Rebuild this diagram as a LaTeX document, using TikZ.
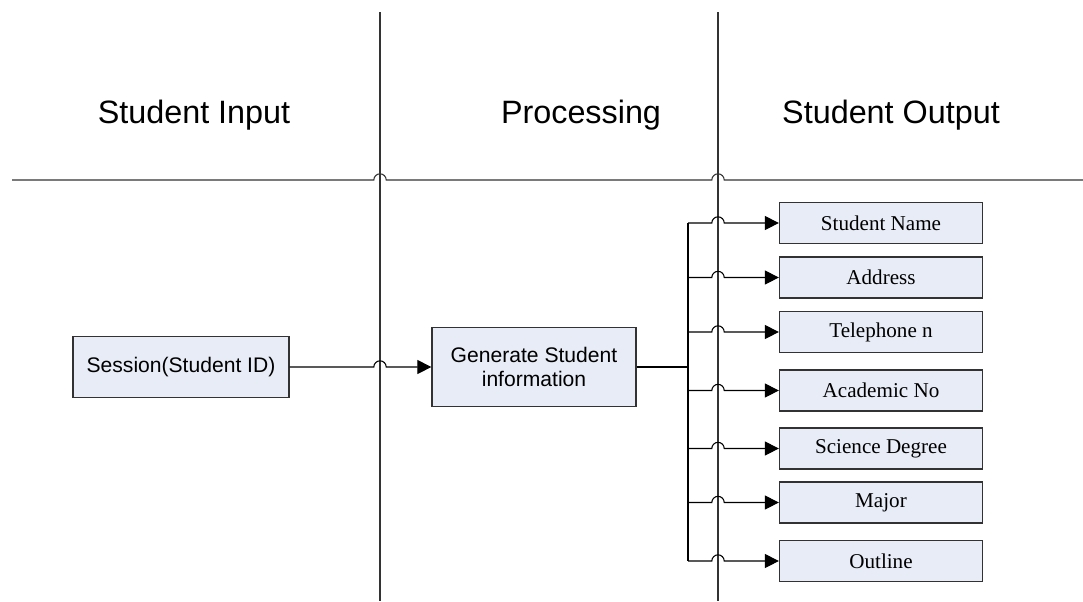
\documentclass[tikz,border=0pt]{standalone}
\usepackage{fontspec}
\setmainfont{Liberation Serif}
\setsansfont{Liberation Sans}
\usetikzlibrary{arrows.meta,positioning}
\definecolor{boxfill}{RGB}{231,236,246}
\definecolor{boxline}{RGB}{50,50,50}
\tikzset{
  lane/.style={draw=black!80, line width=0.75pt},
  head/.style={font=\sffamily\fontsize{23}{26}\selectfont},
  inbox/.style={draw=boxline, fill=boxfill, line width=0.9pt, align=center,
                font=\sffamily\fontsize{15}{17}\selectfont},
  outbox/.style={draw=boxline, fill=boxfill, line width=0.9pt,
                 minimum width=203*0.025cm, minimum height=41*0.025cm,
                 font=\fontsize{15}{17}\selectfont},
  flow/.style={draw=black, line width=0.75pt, -{Triangle[length=10pt,width=10pt]}},
  hop/.style={insert path={arc[start angle=180, end angle=0, radius=4.4pt]}},
}

\begin{document}
\begin{tikzpicture}[x=0.025cm, y=0.025cm]
  \useasboundingbox (0,0) rectangle (1083,-601);
  % swimlane frame
  \coordinate (l1top) at (380,-12);
  \coordinate (l1bot) at (380,-601);
  \coordinate (l2top) at (718,-12);
  \coordinate (l2bot) at (718,-601);
  \coordinate (hleft) at (12,-180);
  \coordinate (hright) at (1083,-180);
  \draw[lane] (l1top) -- (l1bot);
  \draw[lane] (l2top) -- (l2bot);
  \draw[lane] (hleft) -- ([xshift=-4.4pt]l1top |- hleft) [hop]
              -- ([xshift=-4.4pt]l2top |- hleft) [hop] -- (hright);
  \node[head] (hin)   at (194,-115) {Student Input};
  \node[head] (hproc) at (581,-115) {Processing};
  \node[head] (hout)  at (891,-115) {Student Output};
  % input and processing
  \node[inbox, minimum width=216*0.025cm, minimum height=61*0.025cm] (sess) at (181,-367)
    {Session(Student ID)};
  \node[inbox, minimum width=204*0.025cm, minimum height=79*0.025cm] (gen) at (534,-367)
    {Generate Student\\ information};
  \draw[flow] (sess.east) -- ([xshift=-4.4pt]l1top |- sess.east) [hop] -- (gen.west);
  \coordinate (trunk) at (688,-367);
  \draw[line width=1.3pt] (gen.east) -- (trunk);
  % outputs
  \foreach \nm/\txt/\y in {sname/Student Name/223, addr/Address/277.5,
      tel/Telephone n/332, acad/Academic No/390.5, sci/Science Degree/448.5,
      major/Major/502.5, outl/Outline/561} {
    \node[outbox] (\nm) at (881,-\y) {\txt};
    \draw[flow] (trunk |- \nm) -- ([xshift=-4.4pt]l2top |- \nm) [hop] -- (\nm.west);
  }
  \draw[line width=1pt] (trunk |- sname) -- (trunk |- outl);
\end{tikzpicture}
\end{document}
